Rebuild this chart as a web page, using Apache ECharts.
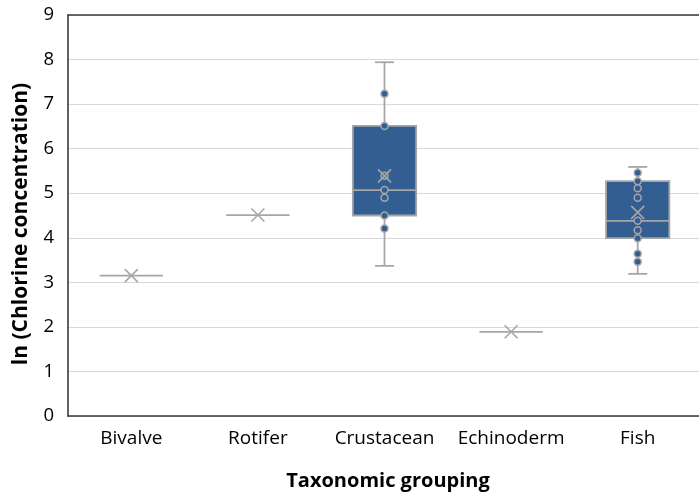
<!DOCTYPE html>
<html>
<head>
<meta charset="utf-8">
<script src="https://cdn.jsdelivr.net/npm/echarts@6/dist/echarts.min.js"></script>
<style>html,body{margin:0;padding:0;background:#fff;overflow:hidden;}#c{width:699px;height:495px;}</style>
</head>
<body>
<div id="c"></div>
<script>
const categories = ['Bivalve', 'Rotifer', 'Crustacean', 'Echinoderm', 'Fish'];
// [min, Q1, median, Q3, max]
const boxStats = [
  [3.15, 3.15, 3.15, 3.15, 3.15],
  [4.51, 4.51, 4.51, 4.51, 4.51],
  [3.37, 4.50, 5.07, 6.51, 7.94],
  [1.89, 1.89, 1.89, 1.89, 1.89],
  [3.19, 3.99, 4.38, 5.27, 5.59]
];
const means = [3.15, 4.51, 5.39, 1.89, 4.57];
const crustaceanPoints = [7.23, 6.51, 5.39, 5.07, 4.90, 4.50, 4.21];
const fishPoints = [5.46, 5.27, 5.11, 4.90, 4.38, 4.17, 3.99, 3.64, 3.46];
const yTicks = [0, 1, 2, 3, 4, 5, 6, 7, 8, 9];

const BOX = '#325E91';
const GREY = '#A6A6A6';
const BORDER = '#3A3A3A';
const FONT = '"Open Sans", sans-serif';

const boxData = boxStats.map((s, i) => [i].concat(s));
const meanData = means.map((m, i) => [i, m]);
const pointData = crustaceanPoints.map(v => [2, v]).concat(fishPoints.map(v => [4, v]));

const chart = echarts.init(document.getElementById('c'), null, {renderer: 'canvas'});
chart.setOption({
  animation: false,
  backgroundColor: '#fff',
  grid: {left: 68, top: 15, width: 633, height: 401, containLabel: false, outerBoundsMode: 'none', show: false},
  xAxis: [{
    type: 'category', data: categories, position: 'bottom',
    axisLine: {show: true, lineStyle: {color: BORDER, width: 1.6}}, axisTick: {show: false},
    axisLabel: {fontSize: 19, color: '#000', fontFamily: FONT, margin: 13, interval: 0},
    splitLine: {show: false}
  }, {
    type: 'category', data: categories, position: 'top',
    axisLine: {show: true, lineStyle: {color: BORDER, width: 1.6}}, axisTick: {show: false},
    axisLabel: {show: false}, splitLine: {show: false}
  }],
  yAxis: {
    type: 'value', min: yTicks[0], max: yTicks[yTicks.length - 1], interval: 1,
    axisLine: {show: true, lineStyle: {color: BORDER, width: 1.6}}, axisTick: {show: false},
    axisLabel: {fontSize: 18.5, color: '#000', fontFamily: FONT, margin: 14},
    splitLine: {lineStyle: {color: '#D9D9D9', width: 1}}
  },
  graphic: [
    {type: 'text', x: 388, y: 481,
     style: {text: 'Taxonomic grouping', font: 'bold 20px ' + FONT, fill: '#000', align: 'center', verticalAlign: 'middle'}},
    {type: 'text', x: 21, y: 224, rotation: Math.PI / 2,
     style: {text: 'ln (Chlorine concentration)', font: 'bold 21px ' + FONT, fill: '#000', align: 'center', verticalAlign: 'middle'}}
  ],
  series: [
    {
      type: 'custom', data: boxData, z: 2,
      encode: {x: 0, y: [1, 2, 3, 4, 5]},
      renderItem: function (params, api) {
        const i = api.value(0);
        const mn = api.value(1), q1 = api.value(2), md = api.value(3), q3 = api.value(4), mx = api.value(5);
        const x = api.coord([i, md])[0];
        const bw = api.size([1, 0])[0] * 0.5;
        const y = v => api.coord([i, v])[1];
        const ls = {stroke: GREY, lineWidth: 1.8};
        if (mn === mx) {
          return {type: 'line', shape: {x1: x - bw / 2, y1: y(md), x2: x + bw / 2, y2: y(md)}, style: ls};
        }
        const cap = 9.5;
        return {type: 'group', children: [
          {type: 'line', shape: {x1: x, y1: y(mx), x2: x, y2: y(q3)}, style: ls},
          {type: 'line', shape: {x1: x, y1: y(q1), x2: x, y2: y(mn)}, style: ls},
          {type: 'line', shape: {x1: x - cap, y1: y(mx), x2: x + cap, y2: y(mx)}, style: ls},
          {type: 'line', shape: {x1: x - cap, y1: y(mn), x2: x + cap, y2: y(mn)}, style: ls},
          {type: 'rect', shape: {x: x - bw / 2, y: y(q3), width: bw, height: y(q1) - y(q3)}, style: {fill: BOX, stroke: GREY, lineWidth: 1.8}},
          {type: 'line', shape: {x1: x - bw / 2, y1: y(md), x2: x + bw / 2, y2: y(md)}, style: ls}
        ]};
      }
    },
    {
      type: 'scatter', data: pointData, z: 3,
      symbol: 'circle', symbolSize: 7,
      itemStyle: {color: BOX, borderColor: GREY, borderWidth: 1.5, opacity: 1}
    },
    {
      type: 'custom', data: meanData, z: 4,
      encode: {x: 0, y: 1},
      renderItem: function (params, api) {
        const p = api.coord([api.value(0), api.value(1)]);
        const h = 6.5;
        const st = {stroke: GREY, lineWidth: 1.6};
        return {type: 'group', children: [
          {type: 'line', shape: {x1: p[0] - h, y1: p[1] - h, x2: p[0] + h, y2: p[1] + h}, style: st},
          {type: 'line', shape: {x1: p[0] - h, y1: p[1] + h, x2: p[0] + h, y2: p[1] - h}, style: st}
        ]};
      }
    }
  ]
});
</script>
</body>
</html>
